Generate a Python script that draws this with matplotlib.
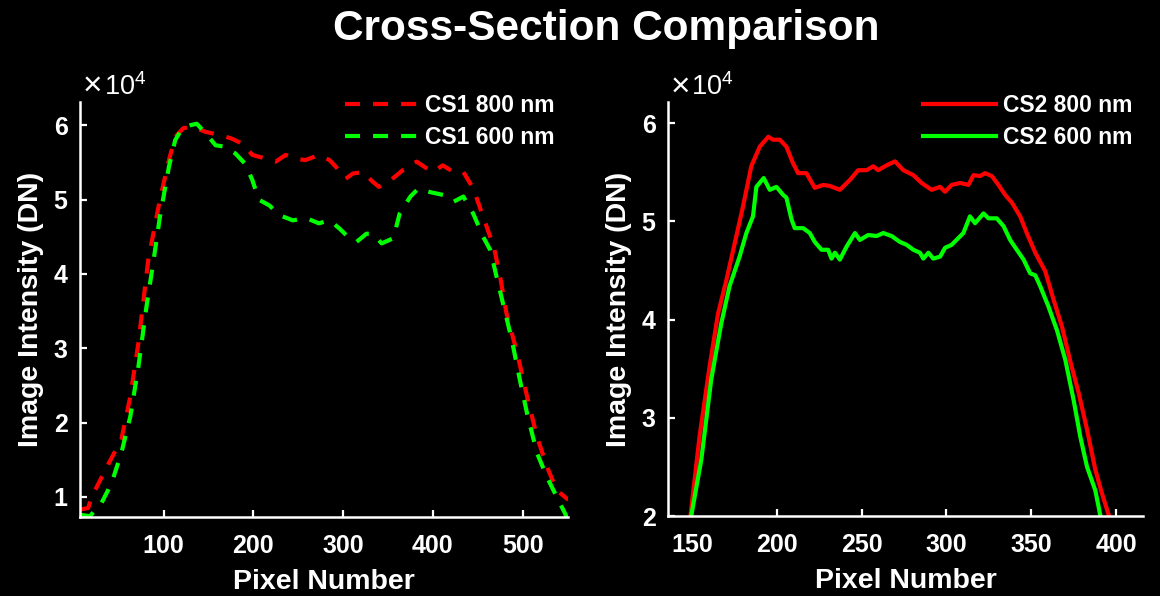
#!/usr/bin/env python3

import matplotlib
matplotlib.use('Agg')
import matplotlib.pyplot as plt
from matplotlib.ticker import FuncFormatter

# values in units of 1e4 DN
cs1_800_x = [7, 16, 20, 38, 53, 63, 72, 83, 96, 106, 113, 122, 132, 147, 162, 176, 188,
             199, 214, 225, 236, 247, 258, 273, 285, 292, 303, 311, 322, 333, 340, 351,
             367, 382, 393, 400, 411, 423, 434, 445, 456, 468, 475, 482, 494, 505, 516,
             527, 538, 551]
cs1_800 = [0.83, 0.85, 1.0, 1.43, 1.77, 2.35, 3.07, 4.19, 5.0, 5.53, 5.84, 5.96, 5.98,
           5.91, 5.87, 5.82, 5.75, 5.6, 5.55, 5.51, 5.6, 5.55, 5.53, 5.6, 5.53, 5.44,
           5.28, 5.35, 5.37, 5.24, 5.17, 5.24, 5.4, 5.51, 5.42, 5.37, 5.46, 5.37, 5.37,
           5.15, 4.77, 4.36, 3.96, 3.47, 2.93, 2.35, 1.81, 1.41, 1.09, 0.96]

cs1_600_x = [7, 18, 31, 42, 53, 63, 72, 81, 89, 96, 106, 113, 121, 130, 137, 147, 158,
             169, 180, 191, 199, 206, 218, 229, 244, 259, 273, 285, 296, 307, 315, 326,
             333, 343, 356, 363, 375, 384, 397, 412, 423, 434, 445, 456, 464, 471, 479,
             488, 497, 505, 516, 527, 538, 548, 551]
cs1_600 = [0.76, 0.74, 0.92, 1.18, 1.59, 2.08, 2.75, 3.56, 4.19, 4.77, 5.44, 5.8, 5.96,
           6.0, 6.02, 5.89, 5.73, 5.71, 5.62, 5.48, 5.26, 5.0, 4.92, 4.79, 4.72, 4.75,
           4.68, 4.72, 4.61, 4.48, 4.43, 4.54, 4.54, 4.41, 4.48, 4.81, 5.04, 5.15, 5.1,
           5.06, 4.97, 5.04, 4.81, 4.5, 4.32, 3.96, 3.56, 3.11, 2.57, 2.12, 1.59, 1.27,
           1.0, 0.76, 0.62]

cs2_800_x = [149.0, 154.5, 160.4, 165.4, 170.3, 176.2, 180.1, 185, 190, 195, 197.8,
             201.8, 205.7, 209.6, 212.6, 217.5, 222.4, 227.4, 231.3, 237.2, 243.1, 248,
             253, 256.9, 259.8, 264.8, 269.7, 274.6, 280.5, 285.4, 291.3, 296.3, 299.2,
             303.1, 308.1, 313, 316, 319.9, 322.8, 326.8, 330.7, 334.6, 338.6, 343.5,
             347.4, 352.4, 358.3, 363.2, 368.1, 373.1, 378, 382.9, 387.8, 391.7, 395.7]
cs2_800 = [1.98, 2.81, 3.52, 4.06, 4.40, 4.85, 5.15, 5.56, 5.76, 5.86, 5.83, 5.83, 5.76,
           5.59, 5.49, 5.49, 5.34, 5.37, 5.36, 5.32, 5.42, 5.52, 5.52, 5.56, 5.52, 5.57,
           5.61, 5.52, 5.47, 5.39, 5.32, 5.35, 5.30, 5.37, 5.39, 5.37, 5.47, 5.46, 5.49,
           5.46, 5.37, 5.27, 5.19, 5.05, 4.88, 4.68, 4.49, 4.2, 3.93, 3.57, 3.25, 2.88,
           2.47, 2.23, 2.01]

cs2_600_x = [149.6, 155.5, 161.4, 167.3, 172.2, 178.1, 182.1, 186, 188, 192.3, 195.9,
             199.8, 203.7, 205.7, 208.7, 210.6, 215.6, 219.5, 222.4, 226.4, 230.3, 232.3,
             234.3, 237.2, 241.1, 246.1, 249, 253.9, 258.9, 262.8, 267.7, 272.6, 276.6,
             280.5, 284.4, 286.4, 289.4, 292.3, 296.3, 299.2, 303.1, 307.1, 310, 313.9,
             316.9, 321.9, 324.8, 329.7, 333.7, 337.6, 341.5, 345.5, 349.4, 352.4, 355.3,
             360.2, 365.2, 370.1, 375, 378.9, 382.9, 387.8, 390.8]
cs2_600 = [2.0, 2.57, 3.39, 3.96, 4.34, 4.64, 4.88, 5.05, 5.35, 5.44, 5.32, 5.35, 5.27,
           5.24, 5.02, 4.93, 4.93, 4.88, 4.79, 4.71, 4.71, 4.62, 4.68, 4.61, 4.74, 4.88,
           4.81, 4.86, 4.85, 4.88, 4.85, 4.79, 4.76, 4.71, 4.68, 4.62, 4.68, 4.62, 4.64,
           4.73, 4.76, 4.83, 4.88, 5.05, 4.98, 5.08, 5.03, 5.03, 4.95, 4.81, 4.71, 4.61,
           4.47, 4.45, 4.34, 4.13, 3.89, 3.59, 3.18, 2.81, 2.50, 2.26, 2.0]

cs1_xticks = [100, 200, 300, 400, 500]
cs2_xticks = [150, 200, 250, 300, 350, 400]
cs1_yticks = [1, 2, 3, 4, 5, 6]
cs2_yticks = [2, 3, 4, 5, 6]

SCALE = 1e4
RED = '#ff0000'
GREEN = '#00ff00'


def style_axes(ax, xticks, yticks, xlim, ylim):
    ax.set_facecolor('black')
    for side in ('top', 'right'):
        ax.spines[side].set_visible(False)
    for side in ('left', 'bottom'):
        ax.spines[side].set_color('white')
        ax.spines[side].set_linewidth(1.8)
    ax.set_xlim(xlim)
    ax.set_ylim(ylim[0] * SCALE, ylim[1] * SCALE)
    ax.set_xticks(xticks)
    ax.set_yticks([t * SCALE for t in yticks])
    ax.yaxis.set_major_formatter(FuncFormatter(lambda v, p: '%g' % (v / SCALE)))
    ax.tick_params(direction='in', length=5, width=1.6, colors='white',
                   labelsize=18)
    ax.tick_params(axis='x', pad=12)
    ax.tick_params(axis='y', pad=9)
    for lab in ax.get_xticklabels() + ax.get_yticklabels():
        lab.set_fontweight('bold')
    ax.set_xlabel('Pixel Number', fontsize=20.5, fontweight='bold', color='white',
                  labelpad=8)
    ax.set_ylabel('Image Intensity (DN)', fontsize=20.5, fontweight='bold',
                  color='white', labelpad=7)
    # exponent label, drawn the way MATLAB does it
    ax.text(0.006, 1.017, '×', transform=ax.transAxes, color='white',
            fontsize=24, va='baseline', ha='left')
    ax.text(0.049, 1.017, '10$^{4}$', transform=ax.transAxes, color='white',
            fontsize=19.5, va='baseline', ha='left')


def main():
    plt.rcParams['font.family'] = ['Liberation Sans', 'DejaVu Sans']
    plt.rcParams['mathtext.default'] = 'regular'
    plt.rcParams['lines.scale_dashes'] = False

    fig = plt.figure(figsize=(11.6, 5.96), dpi=100, facecolor='black')
    ax1 = fig.add_axes([0.069, 0.1326, 0.421, 0.696])
    ax2 = fig.add_axes([0.576, 0.1342, 0.4095, 0.694])

    ax1.plot(cs1_800_x, [v * SCALE for v in cs1_800], color=RED, lw=3,
             dashes=(10.8, 9.4), label='CS1 800 nm')
    ax1.plot(cs1_600_x, [v * SCALE for v in cs1_600], color=GREEN, lw=3,
             dashes=(10.8, 9.4), label='CS1 600 nm')
    style_axes(ax1, cs1_xticks, cs1_yticks, (7, 551), (0.73, 6.31))

    ax2.plot(cs2_800_x, [v * SCALE for v in cs2_800], color=RED, lw=3,
             label='CS2 800 nm')
    ax2.plot(cs2_600_x, [v * SCALE for v in cs2_600], color=GREEN, lw=3,
             label='CS2 600 nm')
    style_axes(ax2, cs2_xticks, cs2_yticks, (136, 416), (2.0, 6.21))

    for ax, anchor in ((ax1, (0.971, 1.02)), (ax2, (0.977, 1.02))):
        leg = ax.legend(loc='upper right', bbox_to_anchor=anchor, frameon=False,
                        fontsize=16.5, handlelength=3.2, handletextpad=0.3,
                        labelspacing=0.4, borderaxespad=0, borderpad=0)
        for t in leg.get_texts():
            t.set_color('white')
            t.set_fontweight('bold')

    fig.text(0.5226, 0.951, 'Cross-Section Comparison', ha='center', va='center',
             fontsize=30.5, fontweight='bold', color='white')

    fig.savefig('out.png', dpi=100, facecolor='black')
    return 0


if __name__ == "__main__":
    exit(main())
